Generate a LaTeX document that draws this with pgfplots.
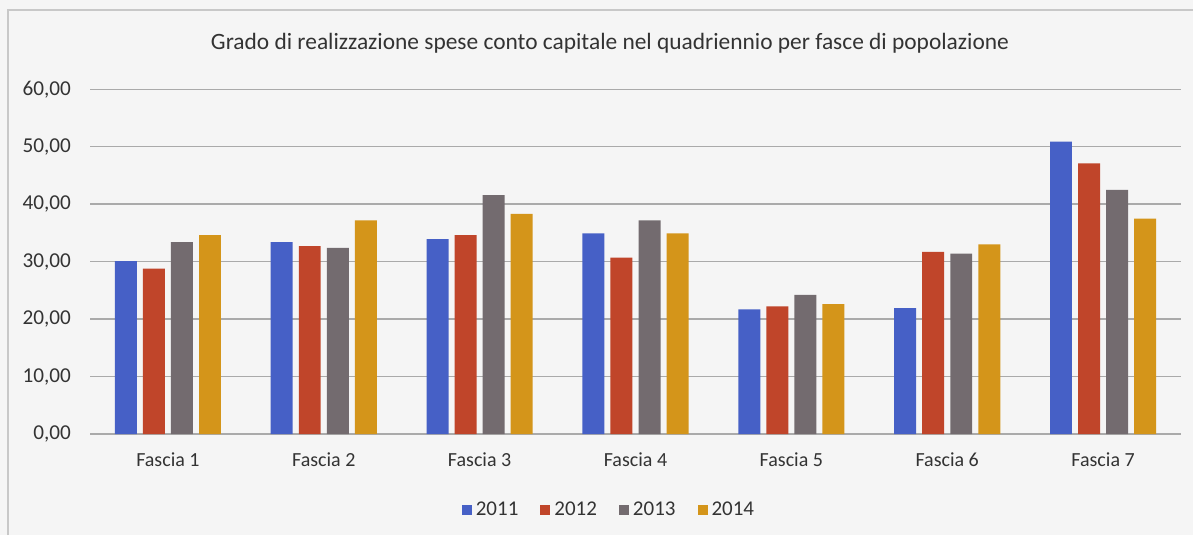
\documentclass[border=0pt]{standalone}
\usepackage{fontspec}
\setmainfont{Carlito}
\usepackage{pgfplots}
\pgfplotsset{compat=1.18}
\definecolor{c11}{HTML}{4660C6}
\definecolor{c12}{HTML}{C0452A}
\definecolor{c13}{HTML}{736B6F}
\definecolor{c14}{HTML}{D4951A}
\definecolor{bgc}{HTML}{F5F5F5}
\definecolor{framec}{HTML}{C8C8C8}
\definecolor{gridc}{HTML}{AAAAAA}
\definecolor{txtc}{HTML}{333333}
\begin{document}
\begin{tikzpicture}[x=0.5pt,y=0.5pt]
\fill[bgc] (0,0) rectangle (1193,535);
\useasboundingbox (0,0) rectangle (1193,535);
\draw[framec, line width=1pt] (8,0) -- (8,525) -- (1193,525);
\node[font=\fontsize{11.7}{13}\selectfont, text=txtc] at (610,492) {Grado di realizzazione spese conto capitale nel quadriennio per fasce di popolazione};
\begin{axis}[
  at={(45pt,50.5pt)}, anchor=south west,
  scale only axis, width=545.5pt, height=172.35pt,
  xmin=-0.5, xmax=6.5, ymin=0, ymax=60,
  ybar, bar width=0.141,
  xtick={0,1,2,3,4,5,6},
  xticklabels={Fascia 1,Fascia 2,Fascia 3,Fascia 4,Fascia 5,Fascia 6,Fascia 7},
  ytick={0,10,20,30,40,50,60},
  /pgf/number format/assume math mode=true,
  yticklabel={\pgfmathprintnumber[fixed,fixed zerofill,precision=2,use comma]{\tick}},
  axis line style={draw=none},
  major tick length=0pt,
  ymajorgrids, grid style={gridc, line width=0.7pt},
  tick label style={font=\fontsize{10}{12}\selectfont, text=txtc},
  yticklabel style={font=\fontsize{10.6}{12}\selectfont, xshift=-6pt},
  xticklabel style={yshift=-6pt},
  legend columns=4,
  legend style={draw=none, fill=none, at={(0.4766,-0.2205)}, anchor=center,
    font=\fontsize{10.5}{12}\selectfont, text=txtc,
    /tikz/every even column/.style={column sep=9pt}},
  legend image code/.code={\fill[#1] (0pt,-2.5pt) rectangle (5pt,2.5pt);},
]
\addplot[fill=c11, draw=none, bar shift=-0.27] coordinates {(0,30.1) (1,33.4) (2,33.9) (3,34.9) (4,21.7) (5,21.9) (6,50.9)};
\addplot[fill=c12, draw=none, bar shift=-0.09] coordinates {(0,28.8) (1,32.7) (2,34.6) (3,30.7) (4,22.2) (5,31.7) (6,47.1)};
\addplot[fill=c13, draw=none, bar shift=0.09] coordinates {(0,33.4) (1,32.4) (2,41.6) (3,37.2) (4,24.2) (5,31.4) (6,42.5)};
\addplot[fill=c14, draw=none, bar shift=0.27] coordinates {(0,34.6) (1,37.2) (2,38.3) (3,34.9) (4,22.6) (5,33.0) (6,37.5)};
\legend{2011,2012,2013,2014}
\end{axis}
\end{tikzpicture}
\end{document}
